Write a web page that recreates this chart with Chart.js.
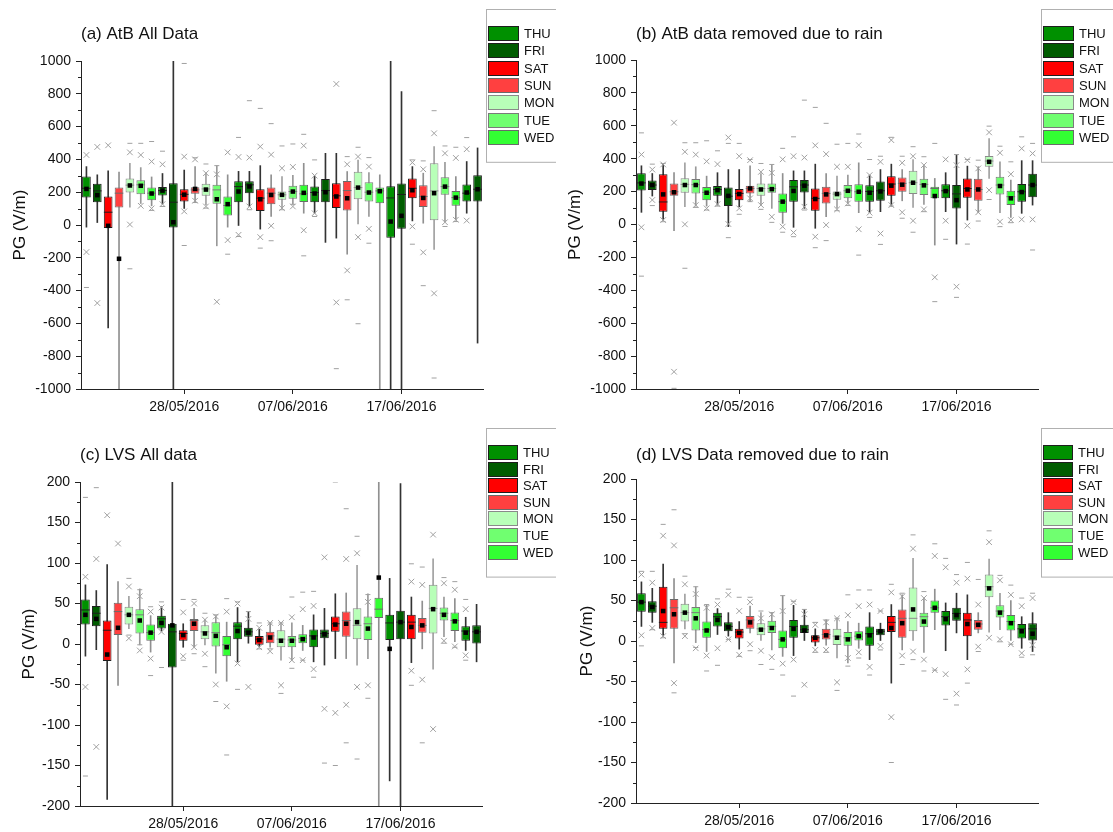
<!DOCTYPE html>
<html>
<head>
<meta charset="utf-8">
<script src="https://cdn.jsdelivr.net/npm/chart.js@4.4.0/dist/chart.umd.min.js"></script>
<style>
  body { margin: 0; background: #fff; width: 1113px; height: 832px; position: relative; overflow: hidden; }
  canvas { position: absolute; }
</style>
</head>
<body>
<canvas id="pa" width="556" height="416" style="left:0;top:0"></canvas>
<canvas id="pb" width="557" height="416" style="left:556px;top:0"></canvas>
<canvas id="pc" width="556" height="416" style="left:0;top:416px"></canvas>
<canvas id="pd" width="557" height="416" style="left:556px;top:416px"></canvas>
<script>
// days from Thu 19/05/2016 to Fri 24/06/2016
const days = ['19/05','20/05','21/05','22/05','23/05','24/05','25/05','26/05','27/05','28/05','29/05','30/05','31/05',
  '01/06','02/06','03/06','04/06','05/06','06/06','07/06','08/06','09/06','10/06','11/06','12/06','13/06','14/06',
  '15/06','16/06','17/06','18/06','19/06','20/06','21/06','22/06','23/06','24/06'];
const dayNames = ['THU','FRI','SAT','SUN','MON','TUE','WED'];
const tickLabels = ['28/05/2016','07/06/2016','17/06/2016'];

// (a) AtB all data
const aQ1 = [167,139,-19,107,198,188,151,180,-15,143,190,178,129,58,139,194,86,127,154,160,141,139,139,103,88,157,143,133,-78,-23,163,109,29,184,117,143,143];
const aMed = [224,208,78,194,243,245,194,210,139,187,214,220,214,119,234,245,164,194,184,204,190,198,210,178,210,228,200,208,165,186,224,174,208,234,167,194,218];
const aQ3 = [295,251,174,228,283,273,228,232,254,218,230,251,245,174,267,267,218,228,204,239,245,235,281,254,269,324,261,228,237,253,283,243,376,291,208,247,303];
const aLo = [-13,15,-628,-1100,109,131,117,128,-1100,101,136,123,-127,-13,-3,113,-25,52,107,128,72,72,-106,-80,-178,7,52,-1100,-1100,-1100,25,11,-149,21,32,72,-720];
const aHi = [356,306,330,322,376,350,293,314,1100,335,356,316,362,306,327,327,362,306,295,303,376,299,437,437,326,396,320,306,1100,813,356,316,478,382,295,387,470];
const aMean = [220,182,-5,-206,241,239,192,210,17,185,220,216,157,127,204,235,157,183,184,204,196,192,200,174,163,228,198,206,21,56,212,165,194,234,167,198,218];
const aP1 = [-165,-476,null,null,3,117,101,127,null,83,148,113,-468,-92,-60,113,-74,-5,103,113,-32,72,null,-472,-277,-74,-23,null,null,null,-9,-167,-417,17,32,27,null];
const aP99 = [427,476,486,null,443,427,387,370,null,417,400,316,309,443,415,411,478,429,346,354,484,301,null,860,370,417,356,null,null,null,381,340,559,437,409,462,null];
const aMin = [-381,null,null,null,-267,null,89,113,null,-125,137,103,null,-178,-70,93,-141,-96,93,126,-188,52,null,-876,-456,-602,-111,null,null,null,-117,-370,-933,-9,21,null,null];
const aMax = [null,null,null,null,498,498,509,450,null,985,410,372,362,null,534,758,711,618,482,494,553,397,null,null,417,474,411,null,null,null,397,391,697,482,474,533,null];

// (b) AtB data removed due to rain
const bQ1 = [206,209,78,175,193,189,148,175,112,148,189,175,193,72,139,195,84,128,150,159,139,139,145,175,199,185,179,159,159,98,163,145,351,183,118,139,165];
const bMed = [253,240,137,199,244,242,195,213,172,189,219,219,219,139,229,240,159,189,185,205,199,201,205,246,250,254,244,219,205,186,219,213,386,240,169,199,240];
const bQ3 = [311,268,305,250,281,277,228,234,225,216,236,250,250,189,270,270,219,230,200,240,245,238,262,294,286,326,278,229,244,240,280,278,416,291,205,246,309];
const bLo = [74,173,27,-38,108,112,112,118,-13,108,139,118,98,7,-17,98,-23,47,100,128,72,72,78,112,144,104,122,-125,78,-119,27,72,280,72,43,68,118];
const bHi = [357,310,371,315,375,351,294,315,334,334,357,310,361,310,326,326,367,310,294,300,375,300,334,367,334,395,357,280,315,425,355,351,523,381,270,388,388];
const bMean = [249,240,183,196,240,240,193,209,174,185,219,213,215,139,204,236,155,183,185,205,199,193,201,236,242,254,238,173,203,148,213,213,381,234,159,197,240];
const bP1 = [-17,149,27,-895,1,118,98,124,3,98,159,118,47,-13,-49,108,-74,-3,92,128,-29,72,-55,118,74,23,92,-321,23,-378,-7,74,209,17,27,31,31];
const bP99 = [425,334,365,619,442,425,384,367,529,415,391,320,314,396,415,407,481,428,351,351,483,300,381,513,375,415,361,null,396,361,391,341,560,436,306,462,432];
const bMin = [-314,115,17,-996,-266,104,88,112,-80,62,139,92,13,-47,-74,88,-141,-98,84,116,-186,43,-121,112,38,-47,78,-469,-90,-443,-119,21,152,-13,11,null,-155];
const bMax = [557,367,371,null,497,497,509,448,493,493,395,371,365,463,533,756,712,615,488,493,550,395,415,530,415,473,412,493,null,425,395,391,598,476,381,533,493];

// (c) LVS all data
const cQ1 = [24,22,-21,11,24,13,4,19,-29,4,16,6,-3,-15,6,9,-1,1,-4,-4,1,-4,7,15,9,6,5,32,5,6,6,14,13,29,16,4,0];
const cMed = [42,38,17,40,36,36,14,31,15,13,29,15,14,-1,22,15,6,10,6,5,7,10,13,25,29,23,25,43,26,27,27,23,44,38,29,16,15];
const cQ3 = [55,47,29,51,46,43,24,35,25,17,31,23,27,10,27,20,10,15,17,10,12,18,18,34,40,44,34,57,36,41,36,32,73,45,39,22,23];
const cLo = [-15,-7,-192,-51,19,-1,-10,16,-220,-4,-4,-1,-36,-46,-22,1,-3,-4,-20,-20,-8,-22,-26,-18,-18,-26,-18,-220,-169,-220,-23,-6,-31,9,3,-8,-22];
const cHi = [73,66,98,77,59,68,35,46,220,25,44,30,35,27,45,40,18,26,25,26,23,36,44,62,63,97,62,220,81,198,58,53,105,58,56,33,49];
const cMean = [36,31,-13,20,36,29,14,26,23,11,25,13,10,-4,16,14,5,8,4,4,6,8,12,24,25,27,19,82,-6,27,21,23,43,36,28,14,15];
const cP1 = [-53,-127,null,null,7,-8,-18,15,null,-15,-4,-12,-50,-77,-24,-53,-4,-9,-51,-20,-20,-31,-80,-85,-75,-53,-51,null,null,null,-33,-44,-105,4,-3,-14,null];
const cP99 = [83,105,159,124,71,59,40,45,null,39,50,30,34,40,50,31,20,26,26,33,43,47,107,null,105,112,52,null,null,null,77,73,135,75,67,43,null];
const cMin = [-163,null,null,null,11,-1,-39,-29,null,-20,-12,-28,-71,-137,-56,null,-6,-6,-61,-30,-20,-41,-147,-150,-122,-142,-67,null,null,null,-51,-122,null,1,-4,-20,null];
const cMax = [181,193,null,null,81,67,46,52,null,55,55,38,36,56,52,40,26,26,26,58,64,65,null,200,167,133,61,null,null,null,99,95,null,82,77,55,null];

// (d) LVS data removed due to rain
const dQ1 = [36,35,15,15,24,13,4,18,12,3,15,7,10,-9,4,10,-2,2,-5,-6,0,-6,7,11,4,12,17,35,19,25,6,14,54,29,13,3,0];
const dMed = [48,43,23,41,35,35,14,30,18,11,26,15,18,2,18,14,4,8,6,4,6,9,12,23,28,28,30,41,30,34,26,21,67,37,24,15,15];
const dQ3 = [59,49,67,52,46,42,24,35,23,15,31,22,25,13,26,20,7,15,15,11,12,18,15,31,39,66,35,50,37,41,35,26,82,44,32,21,22];
const dLo = [18,23,6,-27,15,-2,-13,8,6,-10,10,0,-11,-19,-18,0,-6,-5,-21,-27,-9,-23,0,-52,-11,0,-14,14,-12,10,-23,10,11,14,0,-9,-13];
const dHi = [73,65,95,77,58,67,45,40,35,24,43,35,35,56,44,39,15,26,28,24,22,35,22,45,57,102,53,64,47,59,57,35,101,59,50,30,35];
const dMean = [48,42,37,33,35,28,13,26,17,10,23,14,16,2,15,13,4,7,4,2,6,7,12,16,22,39,24,41,27,32,21,20,65,35,22,12,9];
const dP1 = [7,16,6,-52,6,-9,-18,-9,2,-17,-4,-12,-20,-28,-23,-54,-11,-11,-51,-21,-14,-32,-6,-94,-18,-13,-23,-36,-41,-65,-35,-7,4,2,-4,-15,-5];
const dP99 = [82,72,130,118,70,58,41,45,57,37,48,28,33,37,48,33,20,23,28,32,43,45,37,60,55,114,53,105,91,72,77,45,122,75,57,43,53];
const dMin = [-6,14,4,-64,9,-8,-37,-30,2,-19,-12,-29,-35,-42,-68,null,-14,-14,-61,-31,-21,-42,-11,-150,-29,-23,-37,-36,-72,-79,-52,-13,null,-1,-4,-20,-17];
const dMax = [86,86,144,162,80,67,45,52,64,54,54,37,35,56,49,39,23,26,28,57,63,63,37,70,59,131,61,120,102,82,97,76,136,81,69,53,59];

const FONT = "'Liberation Sans', Arial, sans-serif";
Chart.defaults.font.family = FONT;

const dayFill = { THU: '#009000', FRI: '#005c00', SAT: '#ff0000', SUN: '#ff4040', MON: '#b8ffb8', TUE: '#70ff70', WED: '#33ff33' };
const dayEdge = { THU: '#1e1e1e', FRI: '#1e1e1e', SAT: '#1e1e1e', SUN: '#6a6a6a', MON: '#8a8a8a', TUE: '#7a7a7a', WED: '#6a6a6a' };
const whiskerCol = { THU: '#333', FRI: '#333', SAT: '#333', SUN: '#909090', MON: '#a0a0a0', TUE: '#999', WED: '#909090' };
const tickDays = tickLabels.map(l => days.indexOf(l.slice(0, 5)));

// minor y ticks + legend box
const extras = {
  id: 'extras',
  afterDraw(chart, args, g) {
    const ctx = chart.ctx;
    const ys = chart.scales.y;
    ctx.save();
    ctx.strokeStyle = '#222';
    ctx.lineWidth = 1;
    ctx.beginPath();
    const half = g.step / 2;
    for (let k = 1; ys.min + k * half < ys.max; k += 2) {
      const py = Math.round(ys.getPixelForValue(ys.min + k * half)) + 0.5;
      ctx.moveTo(ys.right - 3, py);
      ctx.lineTo(ys.right, py);
    }
    ctx.stroke();

    // legend
    const top = g.legY - 17, bottom = g.legY + 6 * g.rowH + 15 + 17;
    ctx.strokeStyle = '#b0b0b0';
    ctx.strokeRect(g.legX - 1.5, top + 0.5, chart.width + 10, bottom - top);
    ctx.font = '13px ' + FONT;
    ctx.textBaseline = 'middle';
    ctx.textAlign = 'left';
    dayNames.forEach((d, r) => {
      const y = Math.round(g.legY + r * g.rowH);
      ctx.fillStyle = dayFill[d];
      ctx.fillRect(g.legX, y, g.swW, 15);
      ctx.strokeStyle = dayEdge[d];
      ctx.strokeRect(g.legX + 0.5, y + 0.5, g.swW - 1, 14);
      ctx.fillStyle = '#111';
      ctx.fillText(d, g.legX + g.swW + 5, y + 8);
    });
    ctx.restore();
  }
};

function boxChart(id, title, s, g) {
  const idx = s.q1.map((_, i) => i);
  const fills = idx.map(i => dayFill[dayNames[i % 7]]);
  const edges = idx.map(i => dayEdge[dayNames[i % 7]]);
  const whisk = idx.map(i => whiskerCol[dayNames[i % 7]]);
  const pts = arr => arr.map((v, i) => (v === null ? null : { x: i, y: v })).filter(p => p);

  return new Chart(document.getElementById(id), {
    type: 'bar',
    data: {
      datasets: [
        { type: 'scatter', data: pts(s.mean), pointStyle: 'rect', pointRadius: 3.2,
          pointBackgroundColor: '#000', pointBorderWidth: 0, order: 1 },
        { type: 'scatter', data: pts(s.p1).concat(pts(s.p99)), pointStyle: 'crossRot', pointRadius: 4,
          pointBorderColor: '#a0a0a0', pointBorderWidth: 1, order: 2 },
        { type: 'scatter', data: pts(s.min).concat(pts(s.max)), pointStyle: 'line', pointRadius: 2.5,
          pointBorderColor: '#a0a0a0', pointBorderWidth: 1, order: 3 },
        { type: 'scatter', data: pts(s.med), pointStyle: 'line', pointRadius: 4.3,
          pointBorderColor: c => edges[c.raw.x], pointBorderWidth: 1, order: 4 },
        { type: 'bar', data: idx.map(i => ({ x: i, y: [s.q1[i], s.q3[i]] })),
          backgroundColor: fills, borderColor: edges, borderWidth: 1, borderSkipped: false,
          barPercentage: 0.8, categoryPercentage: 1, grouped: false, order: 5 },
        { type: 'bar', data: idx.map(i => ({ x: i, y: [s.lo[i], s.hi[i]] })),
          backgroundColor: whisk, barThickness: 1, grouped: false, order: 6 }
      ]
    },
    options: {
      responsive: false,
      animation: false,
      events: [],
      layout: { padding: { left: 0, right: g.W - g.right, top: 0, bottom: 0 } },
      scales: {
        x: {
          type: 'linear', min: -0.5, max: days.length - 0.5, offset: false,
          afterBuildTicks: sc => { sc.ticks = tickDays.map(v => ({ value: v })); },
          afterFit: sc => { sc.height = 416 - g.bottom; },
          border: { display: true, color: '#222', width: 1 },
          grid: { drawOnChartArea: false, drawTicks: true, tickLength: 5, color: '#222', offset: false },
          ticks: {
            autoSkip: false, maxRotation: 0, padding: 5, color: '#111',
            font: { size: 14 },
            callback: v => tickLabels[tickDays.indexOf(v)]
          }
        },
        y: {
          min: g.min, max: g.max,
          afterFit: sc => { sc.width = g.left; },
          border: { display: true, color: '#222', width: 1 },
          grid: { drawOnChartArea: false, drawTicks: true, tickLength: 5, color: '#222' },
          ticks: { stepSize: g.step, padding: 5, color: '#111', font: { size: 14 }, callback: v => String(v) },
          title: { display: true, text: 'PG (V/m)', color: '#111', font: { size: 17 },
                   padding: { top: g.yTitleX - 10.2, bottom: 0 } }
        }
      },
      plugins: {
        legend: { display: false },
        tooltip: { enabled: false },
        title: {
          display: true, text: title, align: 'start', fullSize: false, color: '#111',
          font: { size: 17, weight: 'normal' },
          padding: { top: g.titleY - 10.2, bottom: g.top - g.titleY - 10.2 }
        },
        extras: g
      }
    },
    plugins: [extras]
  });
}

boxChart('pa', '(a) AtB All Data',
  { q1: aQ1, med: aMed, q3: aQ3, lo: aLo, hi: aHi, mean: aMean, p1: aP1, p99: aP99, min: aMin, max: aMax },
  { W: 556, left: 81, right: 483, top: 61, bottom: 389, titleY: 34, yTitleX: 20, min: -1000, max: 1000, step: 200,
    legX: 488, legY: 26, rowH: 17.3, swW: 31 });
boxChart('pb', '(b) AtB data removed due to rain',
  { q1: bQ1, med: bMed, q3: bQ3, lo: bLo, hi: bHi, mean: bMean, p1: bP1, p99: bP99, min: bMin, max: bMax },
  { W: 557, left: 80, right: 482, top: 60, bottom: 389, titleY: 34, yTitleX: 19, min: -1000, max: 1000, step: 200,
    legX: 487, legY: 26, rowH: 17.3, swW: 31 });
boxChart('pc', '(c) LVS All data',
  { q1: cQ1, med: cMed, q3: cQ3, lo: cLo, hi: cHi, mean: cMean, p1: cP1, p99: cP99, min: cMin, max: cMax },
  { W: 556, left: 80, right: 482, top: 66, bottom: 390, titleY: 39, yTitleX: 29, min: -200, max: 200, step: 50,
    legX: 488, legY: 29, rowH: 16.6, swW: 30 });
boxChart('pd', '(d) LVS Data removed due to rain',
  { q1: dQ1, med: dMed, q3: dQ3, lo: dLo, hi: dHi, mean: dMean, p1: dP1, p99: dP99, min: dMin, max: dMax },
  { W: 557, left: 80, right: 482, top: 63, bottom: 387, titleY: 39, yTitleX: 31, min: -200, max: 200, step: 50,
    legX: 487, legY: 29, rowH: 16.6, swW: 30 });
</script>
</body>
</html>
